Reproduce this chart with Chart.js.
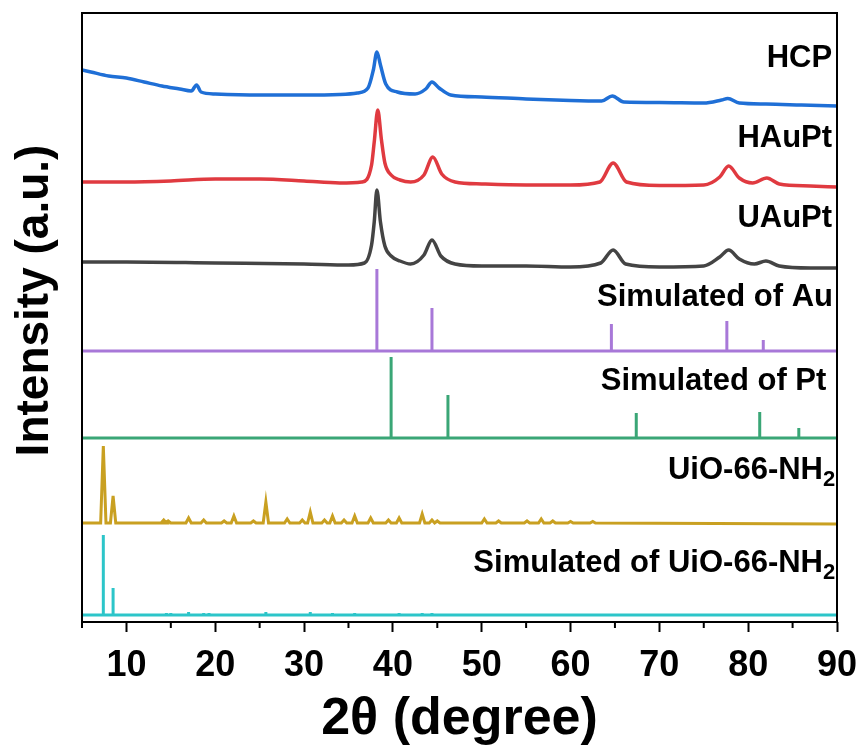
<!DOCTYPE html>
<html>
<head>
<meta charset="utf-8">
<title>XRD patterns</title>
<script src="https://cdn.jsdelivr.net/npm/chart.js@4.4.1/dist/chart.umd.min.js"></script>
<style>
  html, body { margin: 0; padding: 0; background: #fff; }
  canvas { display: block; }
</style>
</head>
<body>
<canvas id="xrdChart" width="864" height="751"></canvas>
<script>
// Pattern names, top to bottom ([main text, subscript])
const names = [
    ['HCP', ''],
    ['HAuPt', ''],
    ['UAuPt', ''],
    ['Simulated of Au', ''],
    ['Simulated of Pt', ''],
    ['UiO-66-NH', '2'],
    ['Simulated of UiO-66-NH', '2']
];
const colors = ['#1f6fd6', '#e03a40', '#444444', '#a878d8', '#3aa676', '#c9a021', '#2cc5c9'];

// Vertical stacking offset of each pattern (a.u.)
const offsets = [516, 435, 354, 271, 184, 99, 7];

// Measured patterns: [2theta, intensity above own baseline]
const hcp = [
    [5, 36], [6, 34], [8, 30], [10, 28], [12, 24], [14, 20], [16, 17], [17.3, 15],
    [17.9, 21], [18.4, 14], [20, 12], [25, 11], [30, 11], [34, 11.5], [36, 13],
    [37.2, 18], [37.8, 36], [38.2, 54], [38.6, 41], [39.2, 22], [40.5, 14], [42.5, 12],
    [43.7, 17], [44.4, 24], [45.2, 18], [46.5, 11], [50, 9], [55, 7], [60, 5.5],
    [63.5, 5], [64.7, 10], [66, 4], [70, 3.5], [75, 3], [77, 6], [77.7, 7.5], [79, 3],
    [82, 2], [86, 1], [90, 0]
];
const hAuPt = [
    [5, 5], [10, 5], [15, 6], [20, 8], [25, 8], [30, 6], [34, 4], [36.5, 5],
    [37.6, 22], [37.9, 45], [38.3, 77], [38.7, 48], [39.1, 24], [39.8, 12], [40.8, 7],
    [42, 5], [43.5, 12], [44.5, 30], [45.5, 13], [47, 5], [50, 3], [55, 2], [60, 2],
    [63.3, 5], [64.8, 24], [66.3, 5], [70, 1.5], [75, 2], [76.8, 10], [77.8, 21],
    [79, 9], [80.5, 4], [82.1, 9], [83.5, 3], [87, 1], [90, 0]
];
const uAuPt = [
    [5, 6], [10, 6], [20, 5], [30, 4], [35, 3], [36.8, 5], [37.6, 23], [37.9, 46],
    [38.2, 78], [38.6, 46], [39.1, 22], [39.8, 12], [40.8, 7], [42, 4], [43.5, 13],
    [44.4, 28], [45.4, 12], [47, 4], [50, 2], [55, 2], [60, 1], [63.4, 5], [64.8, 18],
    [66.2, 4], [70, 1], [75, 2], [76.8, 11], [77.8, 18], [79, 9], [80.7, 4], [82, 7],
    [83.5, 2], [87, 0], [90, 0]
];

// Reference sticks: [2theta, relative height]
const auSticks = [[38.2, 82], [44.4, 43], [64.6, 27], [77.6, 30], [81.7, 11]];
const ptSticks = [[39.8, 81], [46.2, 43], [67.4, 25], [81.3, 26], [85.7, 10]];
const uioPeaks = [
    [7.4, 77], [8.5, 27], [14.2, 3], [14.7, 2], [17.0, 5], [18.7, 3], [21.0, 2], [22.1, 7],
    [24.3, 2], [25.7, 21], [28.1, 4], [29.8, 3], [30.7, 11], [32.3, 3], [33.2, 7], [34.5, 3],
    [35.7, 7], [37.5, 5], [39.5, 3], [40.7, 5], [43.3, 9], [44.4, 3], [45.0, 2], [50.3, 4],
    [51.9, 2], [55.1, 2], [56.7, 4], [58.0, 2], [60.0, 1.5], [62.5, 1.5]
];
const uioSimSticks = [
    [7.4, 80], [8.5, 27], [14.5, 2], [15.0, 2], [17.0, 3], [18.7, 2], [19.3, 2], [22.1, 1.5],
    [25.7, 3], [28.1, 1.5], [30.7, 3], [33.2, 2], [35.7, 2], [40.7, 2], [43.3, 2], [44.4, 2],
    [50.3, 1.5], [56.7, 1.5]
];

// Axis ticks
const majorTicks = [10, 20, 30, 40, 50, 60, 70, 80, 90];
const minorTicks = [5, 15, 25, 35, 45, 55, 65, 75, 85];

// Label anchors (right edge in 2theta, centre in a.u.)
const labelX = [89.45, 89.45, 89.45, 89.55, 88.8, 89.8, 89.8];
const labelY = [564, 484, 404, 325, 241, 152, 59];

const FONT = '"Liberation Sans", Arial, sans-serif';

function shift(points, off) {
    return points.map(p => ({ x: p[0], y: p[1] + off }));
}

// vertical bars from a baseline
function sticks(list, off) {
    const pts = [{ x: 5, y: off }];
    list.forEach(s => {
        pts.push({ x: s[0], y: off }, { x: s[0], y: off + s[1] }, { x: s[0], y: off });
    });
    pts.push({ x: 90, y: off });
    return pts;
}

// narrow triangular peaks from a baseline
function narrowPeaks(list, off, w) {
    const pts = [{ x: 5, y: off }];
    list.forEach(s => {
        pts.push({ x: s[0] - w, y: off }, { x: s[0], y: off + s[1] }, { x: s[0] + w, y: off });
    });
    pts.push({ x: 90, y: off - 1 });
    return pts;
}

const seriesData = [
    shift(hcp, offsets[0]),
    shift(hAuPt, offsets[1]),
    shift(uAuPt, offsets[2]),
    sticks(auSticks, offsets[3]),
    sticks(ptSticks, offsets[4]),
    narrowPeaks(uioPeaks, offsets[5], 0.3),
    sticks(uioSimSticks, offsets[6])
];

const datasets = seriesData.map((d, i) => ({
    label: names[i].join(''),
    data: d,
    borderColor: colors[i],
    borderWidth: i < 3 ? 3.5 : 3,
    pointRadius: 0,
    fill: false,
    cubicInterpolationMode: i < 3 ? 'monotone' : 'default',
    tension: i < 3 ? 0.4 : 0
}));

// frame, minor ticks, y title and the pattern names
const decorations = {
    id: 'decorations',
    afterDraw(chart) {
        const { ctx, chartArea: a, scales: { x, y } } = chart;
        ctx.save();
        ctx.strokeStyle = '#000';
        ctx.lineWidth = 2;
        minorTicks.forEach(v => {
            const px = x.getPixelForValue(v);
            ctx.beginPath();
            ctx.moveTo(px, a.bottom);
            ctx.lineTo(px, a.bottom + 6);
            ctx.stroke();
        });
        ctx.strokeRect(a.left, a.top, a.right - a.left, a.bottom - a.top);

        ctx.fillStyle = '#000';
        ctx.textBaseline = 'middle';

        // y axis title, sits a little above the middle
        ctx.save();
        ctx.translate(35, (a.top + a.bottom) / 2 - 17);
        ctx.rotate(-Math.PI / 2);
        ctx.textAlign = 'center';
        ctx.font = 'bold 46px ' + FONT;
        ctx.fillText('Intensity (a.u.)', 0, 0);
        ctx.restore();

        ctx.textAlign = 'right';
        names.forEach((n, i) => {
            let right = x.getPixelForValue(labelX[i]);
            const yc = y.getPixelForValue(labelY[i]);
            if (n[1]) {
                ctx.font = 'bold 22px ' + FONT;
                ctx.fillText(n[1], right, yc + 10);
                right -= ctx.measureText(n[1]).width;
            }
            ctx.font = 'bold 31px ' + FONT;
            ctx.fillText(n[0], right, yc);
        });
        ctx.restore();
    }
};

new Chart(document.getElementById('xrdChart'), {
    type: 'line',
    data: { datasets: datasets },
    options: {
        responsive: false,
        animation: false,
        layout: { padding: { left: 0, right: 27, top: 13, bottom: 0 } },
        plugins: {
            legend: { display: false },
            tooltip: { enabled: false }
        },
        scales: {
            x: {
                type: 'linear',
                min: 5,
                max: 90,
                afterBuildTicks: s => { s.ticks = majorTicks.map(v => ({ value: v })); },
                afterFit: s => {
                    s.height = 129;
                    s.paddingLeft = 0;
                    s.paddingRight = 0;
                },
                ticks: {
                    color: '#000',
                    font: { family: FONT, size: 36, weight: 'bold' },
                    padding: 12,
                    maxRotation: 0,
                    autoSkip: false
                },
                grid: { drawOnChartArea: false, tickLength: 10, tickWidth: 2, tickColor: '#000' },
                border: { display: false },
                title: {
                    display: true,
                    text: '2θ (degree)',
                    color: '#000',
                    font: { family: FONT, size: 52, weight: 'bold', lineHeight: 1.2 },
                    padding: { top: 0, bottom: 0 }
                }
            },
            y: {
                type: 'linear',
                min: 0,
                max: 609,
                afterFit: s => { s.width = 82; },
                ticks: { display: false },
                grid: { display: false },
                border: { display: false },
                title: { display: false }
            }
        }
    },
    plugins: [decorations]
});
</script>
</body>
</html>
